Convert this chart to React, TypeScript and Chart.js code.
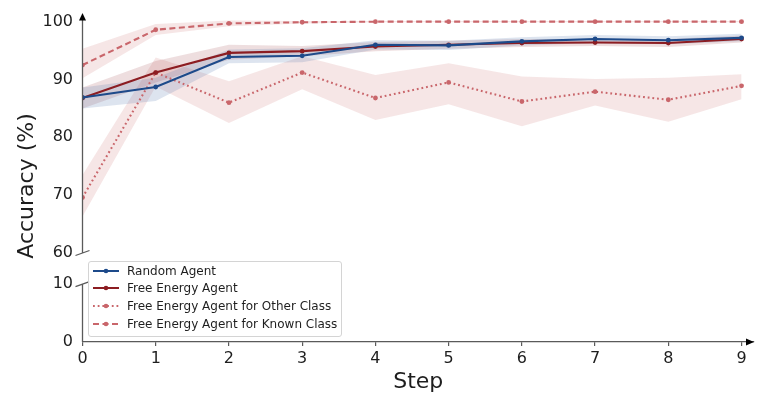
import React, { useEffect, useRef } from 'react';
import { Chart, registerables } from 'chart.js';

Chart.register(...registerables);

const steps = [0, 1, 2, 3, 4, 5, 6, 7, 8, 9];
const upperTicks = [60, 70, 80, 90, 100];
const lowerTicks = [0, 10];

const randomAgent = [86.9, 88.7, 93.9, 94.1, 96.0, 95.9, 96.6, 97.0, 96.8, 97.2];
const randomUpper = [88.6, 90.3, 95.2, 95.4, 96.8, 96.7, 97.3, 97.7, 97.5, 97.9];
const randomLower = [85.0, 86.3, 92.8, 93.0, 95.2, 95.1, 95.9, 96.3, 96.1, 96.6];

const freeEnergy = [86.8, 91.2, 94.6, 94.9, 95.7, 96.0, 96.3, 96.4, 96.3, 97.0];
const freeUpper = [88.6, 93.2, 96.0, 95.8, 96.5, 96.7, 97.0, 97.0, 97.0, 97.6];
const freeLower = [85.0, 89.5, 93.4, 94.0, 94.9, 95.3, 95.6, 95.8, 95.6, 96.4];

const otherClass = [69.6, 91.2, 86.0, 91.2, 86.8, 89.5, 86.2, 87.9, 86.5, 88.9];
const otherUpper = [73.5, 93.8, 89.7, 94.0, 90.8, 92.8, 90.5, 90.1, 90.3, 90.9];
const otherLower = [66.3, 88.8, 82.5, 88.3, 83.0, 85.7, 81.9, 85.5, 82.7, 86.6];

const knownClass = [92.5, 98.6, 99.7, 99.9, 100, 100, 100, 100, 100, 100];
const knownUpper = [95.3, 99.6, 100.2, 100.1, 100.1, 100.1, 100.1, 100.1, 100.1, 100.1];
const knownLower = [90.2, 97.7, 99.2, 99.7, 99.9, 99.9, 99.9, 99.9, 99.9, 99.9];

const blue = '#1d4a8a';
const darkRed = '#8c1d22';
const lightRed = '#c9666b';
const axisColor = '#5a5a5a';
const textColor = '#1e1e1e';
const font = 'DejaVu Sans';

const legendItems = [
  { label: 'Random Agent', color: blue, dash: '' },
  { label: 'Free Energy Agent', color: darkRed, dash: '' },
  { label: 'Free Energy Agent for Other Class', color: lightRed, dash: '1.8 2.9' },
  { label: 'Free Energy Agent for Known Class', color: lightRed, dash: '6 3.5' },
];

const pts = (vals: number[]) => vals.map((v, i) => ({ x: steps[i], y: v }));

function line(label: string, vals: number[], color: string, dash: number[] = []) {
  return {
    label,
    data: pts(vals),
    yAxisID: 'y',
    borderColor: color,
    backgroundColor: color,
    borderWidth: 2.1,
    borderDash: dash,
    pointRadius: 2.4,
    pointBorderWidth: 0,
    fill: false,
  };
}

function bandEdge(vals: number[], fillColor?: string) {
  return {
    label: '',
    data: pts(vals),
    yAxisID: 'y',
    borderWidth: 0,
    borderColor: 'rgba(0,0,0,0)',
    backgroundColor: fillColor || 'rgba(0,0,0,0)',
    pointRadius: 0,
    fill: fillColor ? '-1' : false,
  };
}

// no automatic label padding: the chart area is fixed by layout.padding
const noPad = (s: any) => {
  s.paddingTop = 0;
  s.paddingBottom = 0;
  s.paddingLeft = 0;
  s.paddingRight = 0;
};

const brokenAxis = {
  id: 'brokenAxis',
  afterDraw(chart: any) {
    const { ctx, chartArea, scales } = chart;
    const ax = chartArea.left;
    const yBreak = scales.y.getPixelForValue(upperTicks[0]);
    const yLowTop = scales.y2.getPixelForValue(lowerTicks[lowerTicks.length - 1]);
    const yLowBottom = scales.y2.getPixelForValue(lowerTicks[0]);
    ctx.save();
    ctx.strokeStyle = axisColor;
    ctx.lineWidth = 1.3;
    ctx.beginPath();
    ctx.moveTo(ax, chartArea.top + 5);
    ctx.lineTo(ax, yBreak);
    ctx.moveTo(ax, yLowTop);
    ctx.lineTo(ax, yLowBottom);
    for (const yy of [yBreak, yLowTop]) {
      ctx.moveTo(ax - 7, yy + 2.5);
      ctx.lineTo(ax + 7, yy - 2.5);
    }
    ctx.stroke();

    ctx.fillStyle = '#000';
    ctx.beginPath();
    ctx.moveTo(ax, chartArea.top);
    ctx.lineTo(ax - 3.5, chartArea.top + 7.5);
    ctx.lineTo(ax + 3.5, chartArea.top + 7.5);
    ctx.closePath();
    ctx.fill();
    const r = chartArea.right;
    const yb = chartArea.bottom;
    ctx.beginPath();
    ctx.moveTo(r, yb);
    ctx.lineTo(r - 8, yb - 3.5);
    ctx.lineTo(r - 8, yb + 3.5);
    ctx.closePath();
    ctx.fill();

    ctx.translate(27, 186);
    ctx.rotate(-Math.PI / 2);
    ctx.font = `22px "${font}"`;
    ctx.textAlign = 'center';
    ctx.textBaseline = 'middle';
    ctx.fillStyle = textColor;
    ctx.fillText('Accuracy (%)', 0, 0);
    ctx.restore();
  },
};

function AccuracyChart() {
  const canvasRef = useRef<HTMLCanvasElement | null>(null);
  const chartRef = useRef<Chart | null>(null);

  useEffect(() => {
    if (chartRef.current) chartRef.current.destroy();
    const ctx = canvasRef.current?.getContext('2d');
    if (!ctx) return;
    Chart.defaults.font.family = font;
    chartRef.current = new Chart(ctx, {
      type: 'line',
      data: {
        datasets: [
          line('Random Agent', randomAgent, blue),
          line('Free Energy Agent', freeEnergy, darkRed),
          line('Free Energy Agent for Other Class', otherClass, lightRed, [1.8, 2.9]),
          line('Free Energy Agent for Known Class', knownClass, lightRed, [6, 3.5]),
          bandEdge(randomLower),
          bandEdge(randomUpper, 'rgba(85,120,175,0.2)'),
          bandEdge(freeLower),
          bandEdge(freeUpper, 'rgba(140,35,40,0.15)'),
          bandEdge(otherLower),
          bandEdge(otherUpper, 'rgba(200,100,100,0.16)'),
          bandEdge(knownLower),
          bandEdge(knownUpper, 'rgba(200,100,100,0.16)'),
        ] as any,
      },
      options: {
        animation: false,
        responsive: true,
        maintainAspectRatio: false,
        events: [],
        layout: { padding: { top: 13, right: 11, left: 0, bottom: 0 } },
        plugins: { legend: { display: false }, tooltip: { enabled: false } },
        scales: {
          x: {
            type: 'linear',
            min: 0,
            max: 9.17,
            afterBuildTicks: (s: any) => {
              s.ticks = steps.map((v) => ({ value: v }));
            },
            afterFit: (s: any) => {
              s.height = 60;
              noPad(s);
            },
            grid: { drawOnChartArea: false, drawTicks: true, tickLength: 4, color: axisColor, lineWidth: 1.2 },
            border: { display: true, color: axisColor, width: 1.3 },
            ticks: { font: { size: 16 }, color: textColor, padding: 3 },
            title: { display: true, text: 'Step', font: { size: 22 }, color: textColor, padding: { top: 0, bottom: 6.3 } },
          },
          y2: {
            type: 'linear',
            position: 'left',
            stack: 'acc',
            stackWeight: 89,
            min: 0,
            max: 15.35,
            afterBuildTicks: (s: any) => {
              s.ticks = lowerTicks.map((v) => ({ value: v }));
            },
            afterFit: (s: any) => {
              s.width = 82.5;
              noPad(s);
            },
            grid: { display: false, drawTicks: false },
            border: { display: false },
            ticks: { font: { size: 16 }, color: textColor, padding: 9.5 },
          },
          y: {
            type: 'linear',
            position: 'left',
            stack: 'acc',
            stackWeight: 240,
            min: 60,
            max: 101.5,
            afterBuildTicks: (s: any) => {
              s.ticks = upperTicks.map((v) => ({ value: v }));
            },
            afterFit: (s: any) => {
              s.width = 82.5;
              noPad(s);
            },
            grid: { display: false, drawTicks: false },
            border: { display: false },
            ticks: { font: { size: 16 }, color: textColor, padding: 9.5 },
          },
        },
      } as any,
      plugins: [brokenAxis],
    });
    return () => {
      if (chartRef.current) {
        chartRef.current.destroy();
        chartRef.current = null;
      }
    };
  }, []);

  return (
    <div style={{ position: 'fixed', left: 0, top: 0, width: 765, height: 402, background: '#fff' }}>
      <canvas ref={canvasRef} />
      <div
        style={{
          position: 'absolute',
          left: 88,
          top: 261,
          width: 252,
          height: 74,
          border: '1px solid #d4d4d4',
          borderRadius: 3,
          background: 'rgba(255,255,255,0.85)',
          fontFamily: font,
          fontSize: 12,
          color: textColor,
        }}
      >
        {legendItems.map((item, i) => (
          <div
            key={item.label}
            style={{
              position: 'absolute',
              left: 0,
              top: 8.6 + i * 17.7 - 9,
              height: 18,
              lineHeight: '18px',
              whiteSpace: 'nowrap',
            }}
          >
            <svg width={30} height={18} style={{ position: 'absolute', left: 3, top: 0 }}>
              <line x1={1} y1={9} x2={27} y2={9} stroke={item.color} strokeWidth={2} strokeDasharray={item.dash || undefined} />
              <circle cx={14} cy={9} r={2.3} fill={item.color} />
            </svg>
            <span style={{ position: 'absolute', left: 38, top: 0 }}>{item.label}</span>
          </div>
        ))}
      </div>
    </div>
  );
}

export default function App() {
  return <AccuracyChart />;
}
